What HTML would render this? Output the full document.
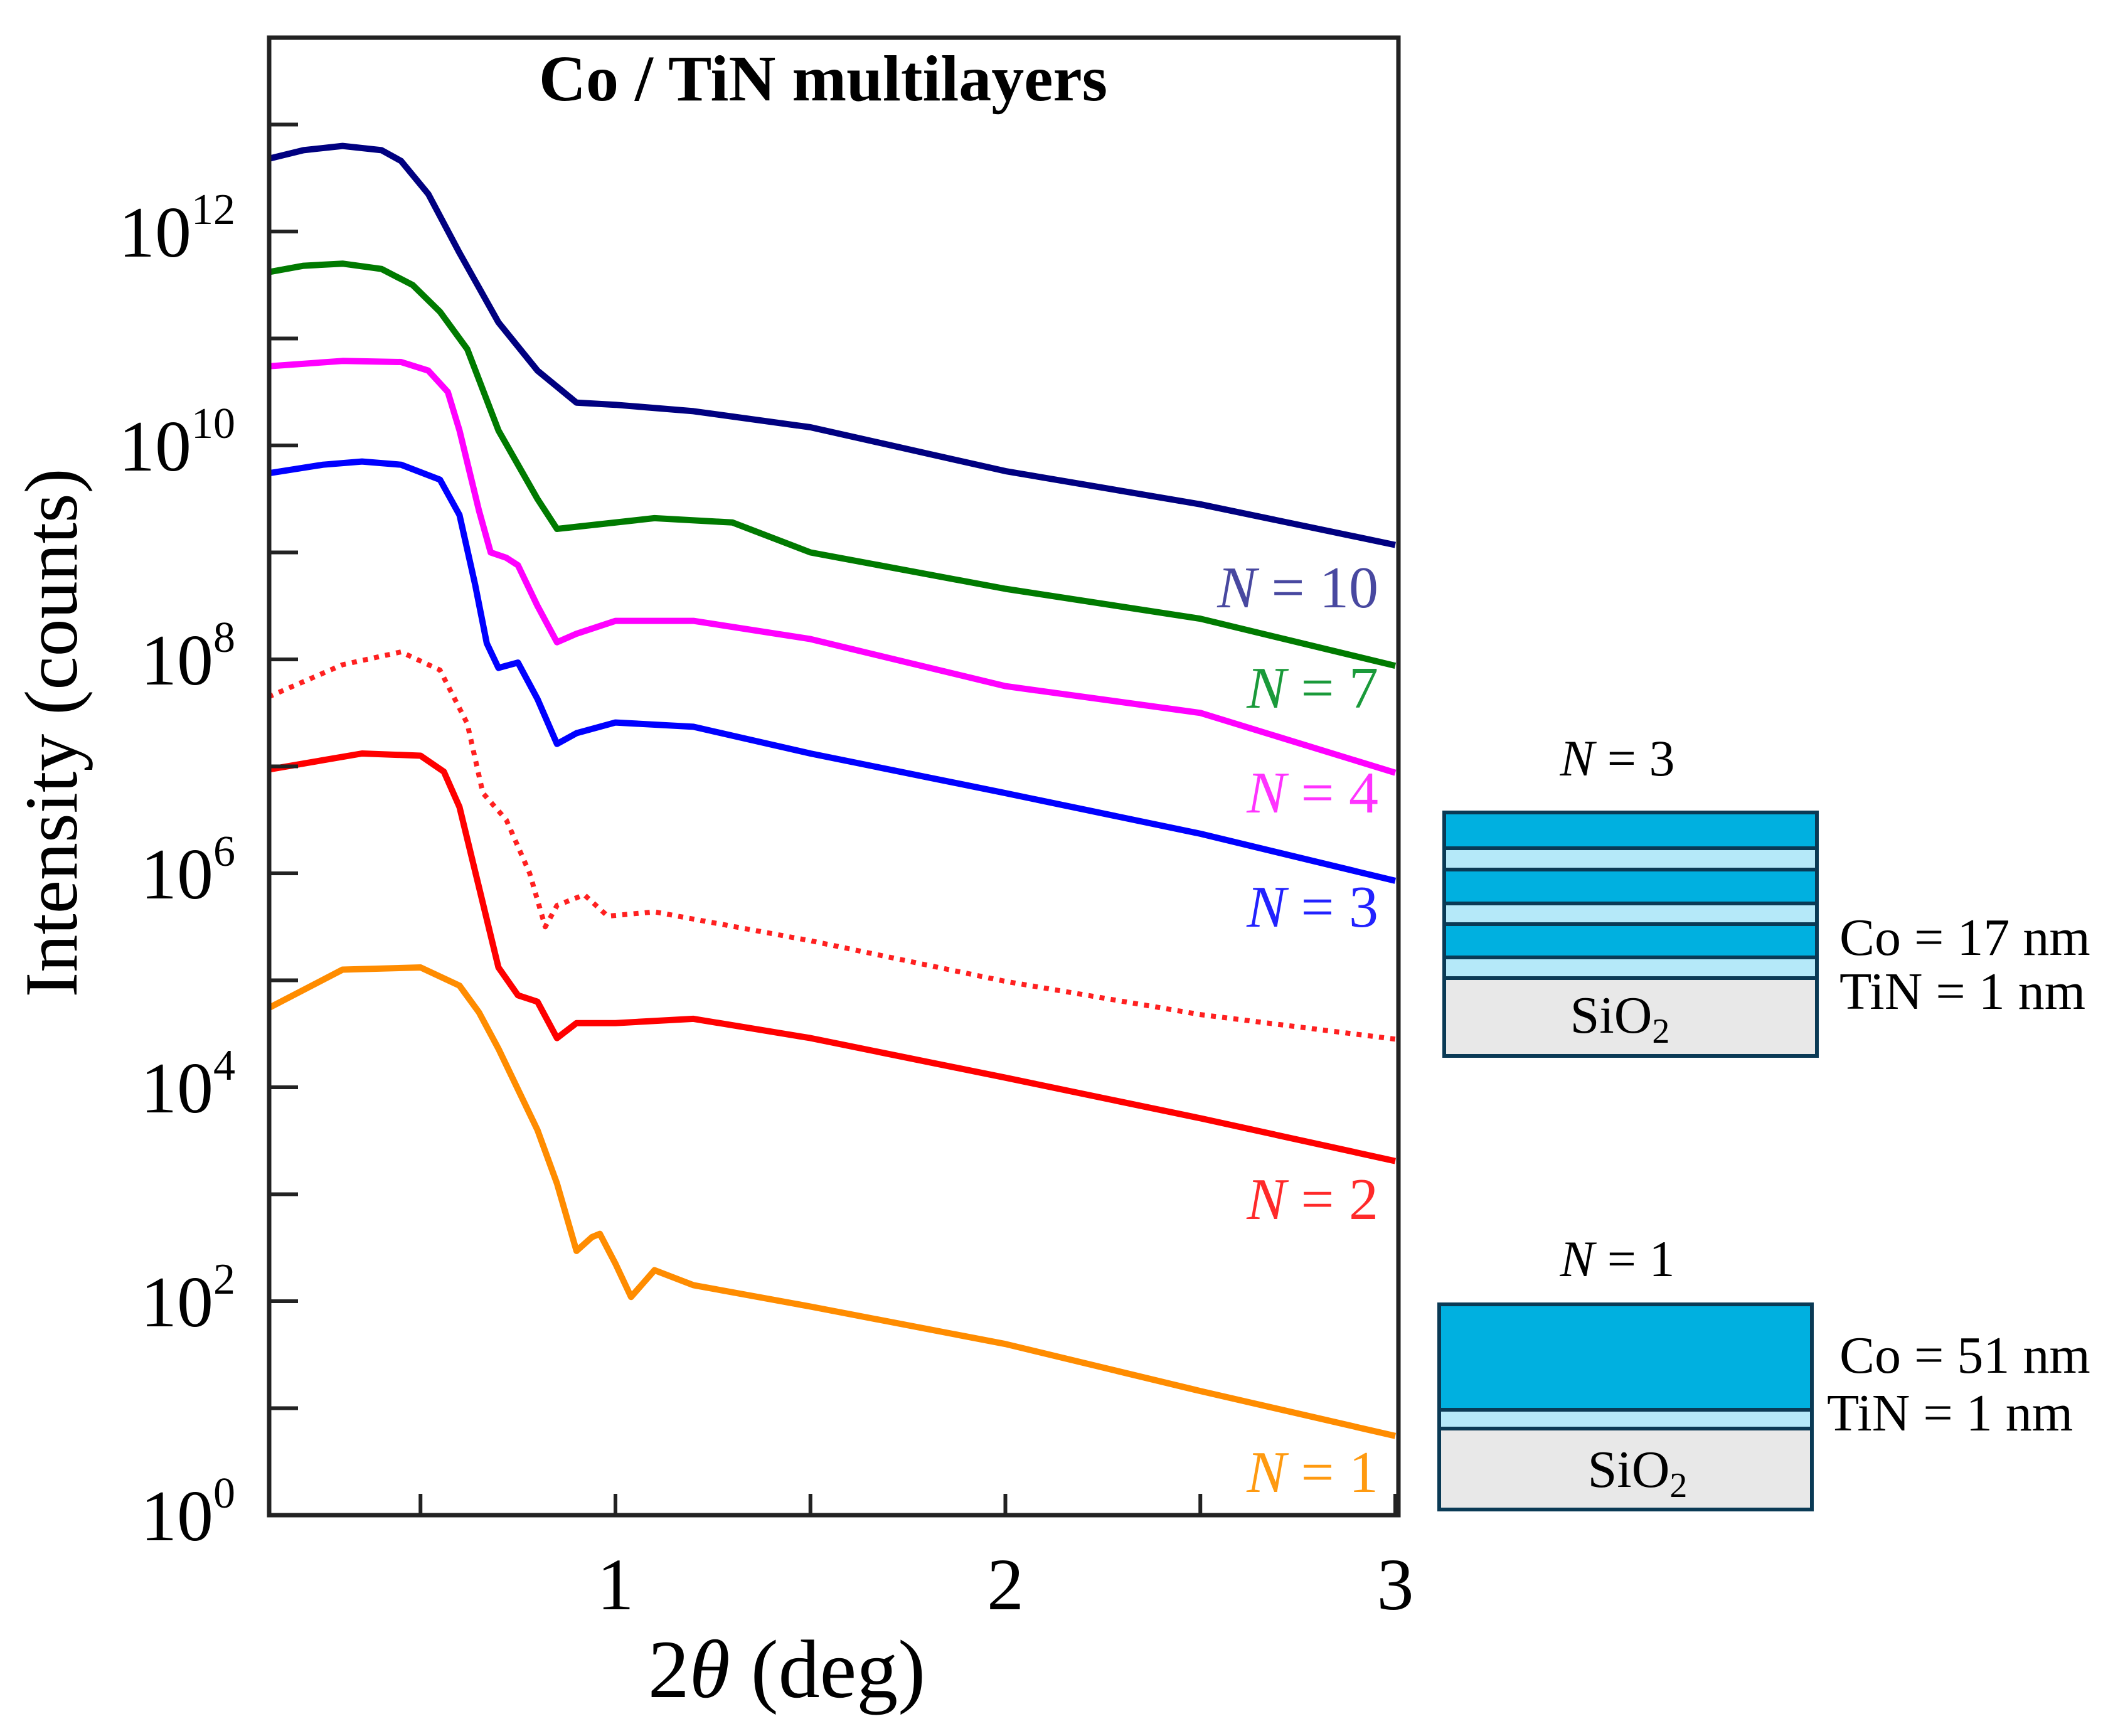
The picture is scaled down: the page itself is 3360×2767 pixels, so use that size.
<!DOCTYPE html>
<html><head><meta charset="utf-8"><style>
html,body{margin:0;padding:0;background:#fff;}
svg{display:block;}
text{font-family:"Liberation Serif",serif;}
</style></head><body>
<svg id="chart" width="3360" height="2767" viewBox="0 0 3360 2767" xmlns="http://www.w3.org/2000/svg">
<g id="plot"></g>
<text x="1312" y="160" text-anchor="middle" font-size="104" font-weight="bold">Co / TiN multilayers</text>
<text transform="translate(122,1168) rotate(-90)" text-anchor="middle" font-size="120">Intensity (counts)</text>
<text x="1254" y="2705" text-anchor="middle" font-size="132">2<tspan font-style="italic">θ</tspan> (deg)</text>

<g>
<text x="2578" y="1236" text-anchor="middle" font-size="82"><tspan font-style="italic">N</tspan> = 3</text>
<rect x="2302" y="1295" width="594" height="57" fill="#00b0e0"/>
<rect x="2302" y="1352" width="594" height="34" fill="#b5e9f9"/>
<rect x="2302" y="1386" width="594" height="54" fill="#00b0e0"/>
<rect x="2302" y="1440" width="594" height="33" fill="#b5e9f9"/>
<rect x="2302" y="1473" width="594" height="53" fill="#00b0e0"/>
<rect x="2302" y="1526" width="594" height="33" fill="#b5e9f9"/>
<rect x="2302" y="1559" width="594" height="124" fill="#e8e8e8"/>
<g stroke="#0a3a55" stroke-width="6">
<line x1="2302" y1="1352" x2="2896" y2="1352"/><line x1="2302" y1="1386" x2="2896" y2="1386"/>
<line x1="2302" y1="1440" x2="2896" y2="1440"/><line x1="2302" y1="1473" x2="2896" y2="1473"/>
<line x1="2302" y1="1526" x2="2896" y2="1526"/><line x1="2302" y1="1559" x2="2896" y2="1559"/>
<rect x="2302" y="1295" width="594" height="388" fill="none"/>
</g>
<text x="2582" y="1646" text-anchor="middle" font-size="84">SiO<tspan font-size="56" dy="16">2</tspan></text>
<text x="2932" y="1522" font-size="84">Co = 17 nm</text>
<text x="2932" y="1608" font-size="84">TiN = 1 nm</text>
</g>

<g>
<text x="2578" y="2034" text-anchor="middle" font-size="82"><tspan font-style="italic">N</tspan> = 1</text>
<rect x="2294" y="2079" width="594" height="168" fill="#00b0e0"/>
<rect x="2294" y="2247" width="594" height="30" fill="#b5e9f9"/>
<rect x="2294" y="2277" width="594" height="129" fill="#e8e8e8"/>
<g stroke="#0a3a55" stroke-width="6">
<line x1="2294" y1="2247" x2="2888" y2="2247"/><line x1="2294" y1="2277" x2="2888" y2="2277"/>
<rect x="2294" y="2079" width="594" height="327" fill="none"/>
</g>
<text x="2610" y="2370" text-anchor="middle" font-size="84">SiO<tspan font-size="56" dy="16">2</tspan></text>
<text x="2932" y="2188" font-size="84">Co = 51 nm</text>
<text x="2912" y="2280" font-size="84">TiN = 1 nm</text>
</g>
</svg>
<script>
const xTicks = [0.5, 1, 1.5, 2, 2.5, 3];
const xTickLabels = ["", "1", "", "2", "", "3"];
const yDecades = [0,1,2,3,4,5,6,7,8,9,10,11,12,13];
const yTickLabels = ["0","","2","","4","","6","","8","","10","","12",""];
const seriesNames = ["N = 10","N = 7","N = 4","N = 3","N = 2 (dotted)","N = 2","N = 1"];
const xN10 = [0.11,0.2,0.3,0.4,0.45,0.52,0.6,0.7,0.8,0.9,1.0,1.2,1.5,2.0,2.5,3.0];
const logN10 = [12.68,12.76,12.8,12.76,12.66,12.35,11.8,11.15,10.7,10.4,10.38,10.32,10.17,9.76,9.45,9.07];
const xN7 = [0.11,0.2,0.3,0.4,0.48,0.55,0.62,0.7,0.8,0.85,0.9,1.1,1.3,1.5,2.0,2.5,3.0];
const logN7 = [11.62,11.68,11.7,11.65,11.5,11.25,10.9,10.14,9.5,9.22,9.24,9.32,9.28,9.0,8.66,8.38,7.94];
const xN4 = [0.11,0.3,0.45,0.52,0.57,0.6,0.65,0.68,0.72,0.75,0.8,0.85,0.9,1.0,1.2,1.5,2.0,2.5,3.0];
const logN4 = [10.74,10.79,10.78,10.7,10.5,10.14,9.39,9.0,8.95,8.88,8.5,8.16,8.24,8.36,8.36,8.19,7.75,7.5,6.94];
const xN3 = [0.11,0.25,0.35,0.45,0.55,0.6,0.64,0.67,0.7,0.75,0.8,0.85,0.9,1.0,1.2,1.5,2.0,2.5,3.0];
const logN3 = [9.74,9.82,9.85,9.82,9.68,9.35,8.7,8.15,7.92,7.97,7.63,7.21,7.31,7.41,7.37,7.12,6.75,6.37,5.93];
const xN2d = [0.11,0.3,0.45,0.55,0.62,0.66,0.72,0.78,0.82,0.85,0.92,0.98,1.1,1.5,2.0,2.5,3.0];
const logN2d = [7.65,7.95,8.07,7.9,7.4,6.75,6.5,6.0,5.5,5.7,5.8,5.6,5.64,5.37,4.99,4.68,4.45];
const xN2 = [0.11,0.35,0.5,0.56,0.6,0.65,0.7,0.75,0.8,0.85,0.9,1.0,1.2,1.5,2.0,2.5,3.0];
const logN2 = [6.97,7.12,7.1,6.95,6.62,5.87,5.12,4.86,4.8,4.46,4.6,4.6,4.64,4.46,4.09,3.71,3.31];
const xN1 = [0.11,0.3,0.5,0.6,0.65,0.7,0.8,0.85,0.9,0.94,0.96,1.0,1.04,1.1,1.2,1.5,2.0,2.5,3.0];
const logN1 = [4.74,5.1,5.12,4.95,4.7,4.36,3.6,3.1,2.47,2.6,2.63,2.35,2.04,2.29,2.15,1.95,1.6,1.16,0.74];

const X0=429, X1=2229, Y0=60, Y1=2415;
const xs = v => 359.5 + v*621.5;
const ys = l => 2415 - l*170.5;
const NS="http://www.w3.org/2000/svg";
const plot=document.getElementById('plot');
function mk(t,a){const e=document.createElementNS(NS,t);for(const k in a)e.setAttribute(k,a[k]);return e;}

const clip=mk('clipPath',{id:'pc'});clip.appendChild(mk('rect',{x:X0,y:Y0,width:X1-X0,height:Y1-Y0}));plot.appendChild(clip);

const series=[
 [xN10,logN10,'#000080',null,'curve-n10'],
 [xN7,logN7,'#007a00',null,'curve-n7'],
 [xN4,logN4,'#ff00ff',null,'curve-n4'],
 [xN3,logN3,'#0000ff',null,'curve-n3'],
 [xN2d,logN2d,'#ff2020','8 10','curve-n2-dotted'],
 [xN2,logN2,'#ff0000',null,'curve-n2'],
 [xN1,logN1,'#ff8c00',null,'curve-n1']];
series.forEach(s=>{
 const d=s[0].map((v,i)=>(i?'L':'M')+xs(v).toFixed(1)+','+ys(s[1][i]).toFixed(1)).join(' ');
 const p=mk('path',{d:d,fill:'none',stroke:s[2],'stroke-width':s[3]?8:10,'stroke-linejoin':'round','clip-path':'url(#pc)'});
 if(s[3])p.setAttribute('stroke-dasharray',s[3]);
 
 
 plot.appendChild(p);
});

const frame=mk('rect',{x:X0,y:Y0,width:X1-X0,height:Y1-Y0,fill:'none',stroke:'#222','stroke-width':7});


plot.appendChild(frame);

xTicks.forEach((v,i)=>{
 const t=mk('line',{x1:xs(v),x2:xs(v),y1:Y1,y2:Y1-34,stroke:'#222','stroke-width':6});
 
 
 plot.appendChild(t);
 if(xTickLabels[i]){
  const l=mk('text',{x:xs(v),y:2565,'text-anchor':'middle','font-size':118});
  l.textContent=xTickLabels[i];
  
  
  plot.appendChild(l);
 }
});
yDecades.forEach((v,i)=>{
 const t=mk('line',{x1:X0,x2:X0+46,y1:ys(v),y2:ys(v),stroke:'#222','stroke-width':6});
 
 
 plot.appendChild(t);
 if(yTickLabels[i]){
  const l=mk('text',{x:375,y:ys(v)+40,'text-anchor':'end','font-size':116});
  l.textContent='10';
  const sp=mk('tspan',{'font-size':70,dy:-52});sp.textContent=yTickLabels[i];l.appendChild(sp);
  
  
  plot.appendChild(l);
 }
});

const labelTexts=['10','7','4','3','2','1'];
const labelY=[968,1128,1295,1477,1943,2378];
const labelColors=['#4848a0','#1a9a3a','#ff33ff','#2222ff','#ff2a2a','#ff9a10'];
labelTexts.forEach((t,i)=>{
 const l=mk('text',{x:2197,y:labelY[i],'text-anchor':'end','font-size':94,fill:labelColors[i]});
 const n=mk('tspan',{'font-style':'italic'});n.textContent='N';l.appendChild(n);
 l.appendChild(document.createTextNode(' = '+t));
 
 
 plot.appendChild(l);
});
</script>
</body></html>
